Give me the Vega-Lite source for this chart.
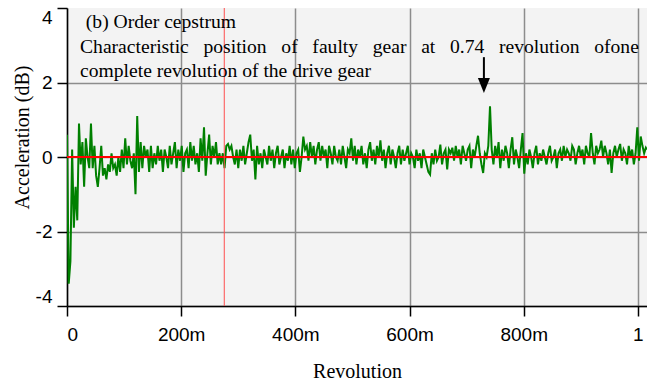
{
  "$schema": "https://vega.github.io/schema/vega-lite/v6.json",
  "width": 580,
  "height": 298,
  "autosize": {"type": "none"},
  "padding": {"left": 67, "top": 8, "right": 0, "bottom": 76},
  "background": "white",
  "config": {
    "view": {"fill": "#f3f3f3", "stroke": null},
    "axis": {
      "domainColor": "black", "domainWidth": 1.5, "tickColor": "black", "tickWidth": 1.5, "tickSize": 10,
      "gridColor": "#8c8c8c", "gridWidth": 1.5,
      "labelFont": "Liberation Sans", "labelFontSize": 19, "labelColor": "black",
      "titleFont": "Liberation Serif", "titleFontSize": 20, "titleFontWeight": "normal", "titleColor": "black"
    }
  },
  "datasets": {
    "sig": [
      {"r":0,"a":0.6},{"r":0.003,"a":-3.4},{"r":0.006,"a":-2.8},{"r":0.009,"a":0.2},{"r":0.012,"a":-1.9},{"r":0.015,"a":-0.8},{"r":0.018,"a":-1.7},{"r":0.021,"a":0.9},{"r":0.024,"a":-0.2},{"r":0.027,"a":0.4},
      {"r":0.03,"a":-0.8},{"r":0.033,"a":0.5},{"r":0.036,"a":0.0},{"r":0.039,"a":-0.3},{"r":0.042,"a":0.9},{"r":0.045,"a":-0.3},{"r":0.048,"a":0.3},{"r":0.051,"a":-0.5},{"r":0.054,"a":-0.8},{"r":0.057,"a":-0.3},
      {"r":0.06,"a":0.3},{"r":0.063,"a":-0.5},{"r":0.066,"a":-0.3},{"r":0.069,"a":-0.6},{"r":0.072,"a":-0.2},{"r":0.075,"a":-0.4},{"r":0.078,"a":0.1},{"r":0.081,"a":-0.3},{"r":0.084,"a":-0.2},{"r":0.087,"a":-0.5},
      {"r":0.09,"a":0.0},{"r":0.093,"a":-0.4},{"r":0.096,"a":0.2},{"r":0.099,"a":-0.3},{"r":0.102,"a":0.5},{"r":0.105,"a":-0.2},{"r":0.108,"a":0.3},{"r":0.111,"a":-0.1},{"r":0.114,"a":-0.3},{"r":0.117,"a":0.1},
      {"r":0.12,"a":-1.0},{"r":0.123,"a":1.1},{"r":0.126,"a":-0.4},{"r":0.129,"a":0.4},{"r":0.132,"a":-0.3},{"r":0.135,"a":0.3},{"r":0.138,"a":0.0},{"r":0.141,"a":0.2},{"r":0.144,"a":-0.4},{"r":0.147,"a":0.3},
      {"r":0.15,"a":-0.3},{"r":0.153,"a":0.1},{"r":0.156,"a":-0.2},{"r":0.159,"a":0.3},{"r":0.162,"a":-0.1},{"r":0.165,"a":0.2},{"r":0.168,"a":-0.4},{"r":0.171,"a":0.2},{"r":0.174,"a":0.0},{"r":0.177,"a":-0.3},
      {"r":0.18,"a":0.3},{"r":0.183,"a":-0.2},{"r":0.186,"a":0.1},{"r":0.189,"a":0.4},{"r":0.192,"a":-0.3},{"r":0.195,"a":0.2},{"r":0.198,"a":-0.1},{"r":0.201,"a":0.3},{"r":0.204,"a":-0.4},{"r":0.207,"a":0.1},
      {"r":0.21,"a":0.2},{"r":0.213,"a":-0.3},{"r":0.216,"a":0.4},{"r":0.219,"a":-0.1},{"r":0.222,"a":0.3},{"r":0.225,"a":-0.2},{"r":0.228,"a":0.1},{"r":0.231,"a":-0.4},{"r":0.234,"a":0.5},{"r":0.237,"a":-0.1},
      {"r":0.24,"a":0.8},{"r":0.243,"a":-0.5},{"r":0.246,"a":0.1},{"r":0.249,"a":0.6},{"r":0.252,"a":-0.2},{"r":0.255,"a":0.3},{"r":0.258,"a":0.0},{"r":0.261,"a":0.4},{"r":0.264,"a":-0.2},{"r":0.267,"a":0.1},
      {"r":0.27,"a":-0.2},{"r":0.273,"a":0.1},{"r":0.276,"a":-0.3},{"r":0.279,"a":0.3},{"r":0.282,"a":0.35},{"r":0.285,"a":0.2},{"r":0.288,"a":0.3},{"r":0.291,"a":0.0},{"r":0.294,"a":-0.2},{"r":0.297,"a":0.2},
      {"r":0.3,"a":-0.3},{"r":0.303,"a":0.2},{"r":0.306,"a":-0.1},{"r":0.309,"a":0.3},{"r":0.312,"a":-0.2},{"r":0.315,"a":0.1},{"r":0.318,"a":0.4},{"r":0.321,"a":0.6},{"r":0.324,"a":-0.1},{"r":0.327,"a":0.2},
      {"r":0.33,"a":-0.6},{"r":0.333,"a":0.3},{"r":0.336,"a":-0.2},{"r":0.339,"a":0.1},{"r":0.342,"a":-0.3},{"r":0.345,"a":0.2},{"r":0.348,"a":0.0},{"r":0.351,"a":-0.2},{"r":0.354,"a":0.3},{"r":0.357,"a":-0.1},
      {"r":0.36,"a":0.2},{"r":0.363,"a":-0.3},{"r":0.366,"a":0.1},{"r":0.369,"a":0.3},{"r":0.372,"a":-0.2},{"r":0.375,"a":0.0},{"r":0.378,"a":0.2},{"r":0.381,"a":-0.3},{"r":0.384,"a":0.1},{"r":0.387,"a":-0.1},
      {"r":0.39,"a":0.3},{"r":0.393,"a":-0.2},{"r":0.396,"a":0.2},{"r":0.399,"a":-0.3},{"r":0.402,"a":0.1},{"r":0.405,"a":0.2},{"r":0.408,"a":-0.4},{"r":0.411,"a":0.0},{"r":0.414,"a":0.55},{"r":0.417,"a":0.2},
      {"r":0.42,"a":0.3},{"r":0.423,"a":-0.1},{"r":0.426,"a":0.4},{"r":0.429,"a":0.0},{"r":0.432,"a":0.3},{"r":0.435,"a":-0.2},{"r":0.438,"a":0.2},{"r":0.441,"a":0.4},{"r":0.444,"a":-0.1},{"r":0.447,"a":0.3},
      {"r":0.45,"a":0.0},{"r":0.453,"a":0.2},{"r":0.456,"a":-0.3},{"r":0.459,"a":0.3},{"r":0.462,"a":0.1},{"r":0.465,"a":-0.2},{"r":0.468,"a":0.3},{"r":0.471,"a":0.0},{"r":0.474,"a":-0.1},{"r":0.477,"a":0.2},
      {"r":0.48,"a":-0.2},{"r":0.483,"a":0.3},{"r":0.486,"a":0.0},{"r":0.489,"a":-0.3},{"r":0.492,"a":0.2},{"r":0.495,"a":0.1},{"r":0.498,"a":0.5},{"r":0.501,"a":-0.1},{"r":0.504,"a":0.3},{"r":0.507,"a":-0.2},
      {"r":0.51,"a":0.2},{"r":0.513,"a":0.0},{"r":0.516,"a":0.3},{"r":0.519,"a":-0.2},{"r":0.522,"a":0.1},{"r":0.525,"a":-0.3},{"r":0.528,"a":0.2},{"r":0.531,"a":0.4},{"r":0.534,"a":-0.1},{"r":0.537,"a":0.2},
      {"r":0.54,"a":-0.2},{"r":0.543,"a":0.3},{"r":0.546,"a":0.0},{"r":0.549,"a":0.45},{"r":0.552,"a":-0.1},{"r":0.555,"a":0.2},{"r":0.558,"a":-0.3},{"r":0.561,"a":0.1},{"r":0.564,"a":0.3},{"r":0.567,"a":-0.2},
      {"r":0.57,"a":0.2},{"r":0.573,"a":0.0},{"r":0.576,"a":-0.3},{"r":0.579,"a":0.1},{"r":0.582,"a":0.3},{"r":0.585,"a":-0.2},{"r":0.588,"a":0.2},{"r":0.591,"a":-0.1},{"r":0.594,"a":0.1},{"r":0.597,"a":0.3},
      {"r":0.6,"a":-0.2},{"r":0.603,"a":0.1},{"r":0.606,"a":0.0},{"r":0.609,"a":-0.3},{"r":0.612,"a":0.2},{"r":0.615,"a":-0.1},{"r":0.618,"a":0.1},{"r":0.621,"a":-0.3},{"r":0.624,"a":0.2},{"r":0.627,"a":0.0},
      {"r":0.63,"a":-0.2},{"r":0.633,"a":-0.4},{"r":0.636,"a":-0.47},{"r":0.639,"a":0.1},{"r":0.642,"a":-0.2},{"r":0.645,"a":0.2},{"r":0.648,"a":-0.1},{"r":0.651,"a":0.0},{"r":0.654,"a":0.33},{"r":0.657,"a":-0.2},
      {"r":0.66,"a":0.1},{"r":0.663,"a":0.2},{"r":0.666,"a":-0.33},{"r":0.669,"a":0.2},{"r":0.672,"a":0.1},{"r":0.675,"a":0.25},{"r":0.678,"a":-0.1},{"r":0.681,"a":0.3},{"r":0.684,"a":0.0},{"r":0.687,"a":0.2},
      {"r":0.69,"a":-0.2},{"r":0.693,"a":0.3},{"r":0.696,"a":0.1},{"r":0.699,"a":-0.1},{"r":0.702,"a":0.2},{"r":0.705,"a":0.3},{"r":0.708,"a":-0.3},{"r":0.711,"a":0.2},{"r":0.714,"a":0.0},{"r":0.717,"a":0.3},
      {"r":0.72,"a":0.57},{"r":0.723,"a":0.1},{"r":0.726,"a":-0.2},{"r":0.729,"a":-0.43},{"r":0.732,"a":0.1},{"r":0.735,"a":0.0},{"r":0.738,"a":0.3},{"r":0.741,"a":1.36},{"r":0.744,"a":0.2},{"r":0.747,"a":-0.2},
      {"r":0.75,"a":0.3},{"r":0.753,"a":0.0},{"r":0.756,"a":0.4},{"r":0.759,"a":-0.3},{"r":0.762,"a":0.2},{"r":0.765,"a":-0.1},{"r":0.768,"a":0.3},{"r":0.771,"a":0.1},{"r":0.774,"a":-0.3},{"r":0.777,"a":0.2},
      {"r":0.78,"a":0.53},{"r":0.783,"a":-0.2},{"r":0.786,"a":0.2},{"r":0.789,"a":0.0},{"r":0.792,"a":-0.3},{"r":0.795,"a":0.2},{"r":0.798,"a":0.64},{"r":0.801,"a":-0.45},{"r":0.804,"a":0.1},{"r":0.807,"a":-0.2},
      {"r":0.81,"a":0.2},{"r":0.813,"a":0.0},{"r":0.816,"a":-0.3},{"r":0.819,"a":0.1},{"r":0.822,"a":0.3},{"r":0.825,"a":-0.2},{"r":0.828,"a":0.1},{"r":0.831,"a":-0.1},{"r":0.834,"a":0.2},{"r":0.837,"a":0.0},
      {"r":0.84,"a":-0.2},{"r":0.843,"a":0.1},{"r":0.846,"a":0.3},{"r":0.849,"a":-0.1},{"r":0.852,"a":0.0},{"r":0.855,"a":0.2},{"r":0.858,"a":-0.3},{"r":0.861,"a":0.1},{"r":0.864,"a":0.2},{"r":0.867,"a":-0.1},
      {"r":0.87,"a":0.3},{"r":0.873,"a":0.0},{"r":0.876,"a":0.2},{"r":0.879,"a":0.1},{"r":0.882,"a":-0.1},{"r":0.885,"a":0.3},{"r":0.888,"a":0.2},{"r":0.891,"a":-0.2},{"r":0.894,"a":0.1},{"r":0.897,"a":0.3},
      {"r":0.9,"a":0.0},{"r":0.903,"a":0.2},{"r":0.906,"a":-0.2},{"r":0.909,"a":0.3},{"r":0.912,"a":0.1},{"r":0.915,"a":0.0},{"r":0.918,"a":0.64},{"r":0.921,"a":0.1},{"r":0.924,"a":-0.2},{"r":0.927,"a":0.3},
      {"r":0.93,"a":0.1},{"r":0.933,"a":0.2},{"r":0.936,"a":0.44},{"r":0.939,"a":0.0},{"r":0.942,"a":0.3},{"r":0.945,"a":0.1},{"r":0.948,"a":-0.2},{"r":0.951,"a":0.2},{"r":0.954,"a":-0.43},{"r":0.957,"a":0.1},
      {"r":0.96,"a":0.3},{"r":0.963,"a":0.0},{"r":0.966,"a":0.2},{"r":0.969,"a":0.35},{"r":0.972,"a":-0.1},{"r":0.975,"a":0.2},{"r":0.978,"a":0.1},{"r":0.981,"a":-0.2},{"r":0.984,"a":0.3},{"r":0.987,"a":0.0},
      {"r":0.99,"a":0.2},{"r":0.993,"a":-0.2},{"r":0.996,"a":0.1},{"r":0.999,"a":0.8},{"r":1.002,"a":-0.1},{"r":1.005,"a":0.55},{"r":1.008,"a":0.3},{"r":1.011,"a":0.1},{"r":1.014,"a":0.25},{"r":1.016,"a":0.2}
    ],
    "notes": [
      {"r": 0.033, "a": 3.46, "label": "(b) Order cepstrum"},
      {"r": 0.0228, "a": 2.79, "label": "Characteristic\u00a0\u00a0 position\u00a0\u00a0 of\u00a0\u00a0 faulty\u00a0\u00a0 gear\u00a0\u00a0 at\u00a0\u00a0 0.74\u00a0\u00a0 revolution\u00a0\u00a0 ofone"},
      {"r": 0.0228, "a": 2.15, "label": "complete revolution of the drive gear"}
    ],
    "arrow": [{"r": 0.7303, "a": 2.68, "a2": 2.1, "tip": 1.72}],
    "one": [{}]
  },
  "layer": [
    {
      "data": {"name": "sig"},
      "mark": {"type": "line", "color": "#008000", "strokeWidth": 2, "clip": true},
      "encoding": {
        "x": {
          "field": "r", "type": "quantitative",
          "scale": {"domain": [0, 1.016], "nice": false, "zero": false},
          "axis": {
            "values": [0, 0.2, 0.4, 0.6, 0.8, 1],
            "labelExpr": "datum.value == 0 ? '0' : (datum.value > 0.999 ? '1' : round(datum.value * 1000) + 'm')",
            "labelFlush": true, "labelPadding": 9,
            "title": "Revolution", "titlePadding": 17
          }
        },
        "y": {
          "field": "a", "type": "quantitative",
          "scale": {"domain": [-4, 4], "nice": false},
          "axis": {
            "values": [-4, -2, 0, 2, 4],
            "labelExpr": "'' + datum.value",
            "labelFlush": true, "labelPadding": 5,
            "gridColor": {"condition": {"test": "datum.value == 4", "value": "transparent"}, "value": "#8c8c8c"},
            "title": "Acceleration (dB)", "titleX": -45, "titleY": 129, "titleAngle": -90, "titleAlign": "center", "titleBaseline": "middle"
          }
        }
      }
    },
    {
      "data": {"name": "one"},
      "mark": {"type": "rule", "color": "#ff0000", "strokeWidth": 1.8},
      "encoding": {"y": {"datum": 0}}
    },
    {
      "data": {"name": "one"},
      "mark": {"type": "rule", "color": "#ff5050", "strokeWidth": 1},
      "encoding": {"x": {"datum": 0.2755}}
    },
    {
      "data": {"name": "notes"},
      "mark": {"type": "text", "align": "left", "baseline": "alphabetic", "font": "Liberation Serif", "fontSize": 19.6, "color": "black"},
      "encoding": {
        "x": {"field": "r", "type": "quantitative"},
        "y": {"field": "a", "type": "quantitative"},
        "text": {"field": "label"}
      }
    },
    {
      "data": {"name": "arrow"},
      "mark": {"type": "rule", "color": "black", "strokeWidth": 2},
      "encoding": {
        "x": {"field": "r", "type": "quantitative"},
        "y": {"field": "a", "type": "quantitative"},
        "y2": {"field": "a2"}
      }
    },
    {
      "data": {"name": "arrow"},
      "mark": {"type": "point", "shape": "M-1,-2.5L1,-2.5L0,0Z", "size": 144, "filled": true, "color": "black", "opacity": 1, "strokeWidth": 0},
      "encoding": {
        "x": {"field": "r", "type": "quantitative"},
        "y": {"field": "tip", "type": "quantitative"}
      }
    }
  ]
}
